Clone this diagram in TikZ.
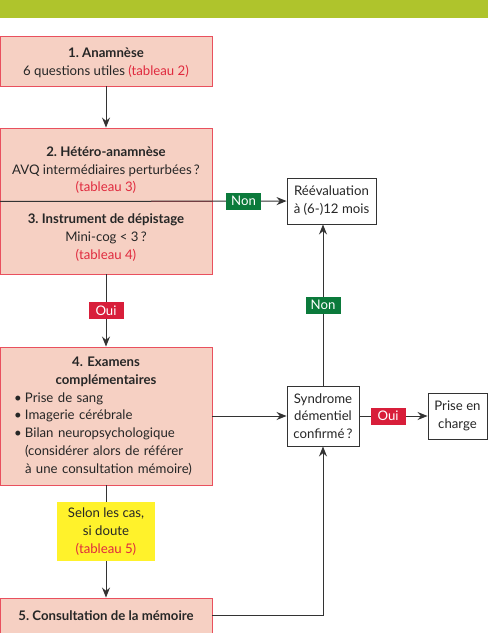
\documentclass[tikz,border=0pt]{standalone}
\usepackage{fontspec}
\setmainfont{Lato}
\usetikzlibrary{arrows.meta,positioning}
\frenchspacing

\definecolor{barvert}{HTML}{AFC42C}
\definecolor{rose}{HTML}{F6D0C3}
\definecolor{bordrose}{HTML}{E9505E}
\definecolor{rougetxt}{HTML}{E02A3E}
\definecolor{vertlbl}{HTML}{0B7A3B}
\definecolor{rougelbl}{HTML}{D81E3A}
\definecolor{jaune}{HTML}{FFF22B}
\definecolor{trait}{HTML}{333333}

\newcommand{\tabl}[1]{\textcolor{rougetxt}{(tableau #1)}}
\newcommand{\puce}[1]{\hspace*{8pt}\makebox[11pt][l]{\textbullet}#1}

\tikzset{
  etape/.style={draw=bordrose, fill=rose, line width=0.9pt, minimum width=212pt, align=center, inner sep=0pt},
  issue/.style={draw=trait, fill=white, line width=0.9pt, align=center, inner sep=0pt},
  reponse/.style={text=white, minimum width=35pt, minimum height=17pt, inner sep=0pt},
  doute/.style={fill=jaune, minimum width=98pt, minimum height=59pt, align=center, inner sep=0pt},
  fleche/.style={draw=trait, line width=1pt, -{Stealth[length=10pt,width=8pt]}},
  lien/.style={draw=trait, line width=1pt}
}

\begin{document}
\begin{tikzpicture}[x=1pt, y=-1pt, font=\fontsize{13.2}{17.8}\selectfont, text=black!85]
  \useasboundingbox (0,0) rectangle (488,633);
  % bandeau
  \fill[barvert] (0,0) rectangle (488,18);

  % etapes de gauche
  \node[etape, minimum height=50pt] (anam) at (106,61)
    {\rule{0pt}{14pt}\textbf{1. Anamnèse}\\6 questions utiles \tabl{2}};
  \node[etape, minimum height=73pt] (hetero) at (106,164.5)
    {\rule{0pt}{21pt}\textbf{2. Hétéro-anamnèse}\\AVQ intermédiaires perturbées\,?\\\tabl{3}};
  \node[etape, minimum height=73pt] (depist) at (106,237.5)
    {\textbf{3. Instrument de dépistage}\\Mini-cog < 3\,?\\\tabl{4}};
  \node[etape, minimum height=138pt, text width=200pt, align=left] (exam) at (106,416)
    {\makebox[200pt]{\textbf{4. Examens}}\\
     \makebox[200pt]{\textbf{complémentaires}}\\
     \puce{Prise de sang}\\
     \puce{Imagerie cérébrale}\\
     \puce{Bilan neuropsychologique}\\
     \hspace*{19pt}(considérer alors de référer\\
     \hspace*{19pt}à une consultation mémoire)};
  \node[etape, minimum height=35pt] (consult) at (106,615.5)
    {\textbf{5. Consultation de la mémoire}};

  % issues de droite
  \node[issue, minimum width=89pt, minimum height=46pt] (reeval) at (331.5,201)
    {Réévaluation\\à (6-)12 mois};
  \node[issue, minimum width=72pt, minimum height=60pt] (syndr) at (323,416)
    {Syndrome\\démentiel\\confirmé\,?};
  \node[issue, minimum width=59pt, minimum height=46pt] (prise) at (457.5,416)
    {Prise en\\charge};

  % liens
  \draw[fleche] (anam) -- (hetero);
  \draw[fleche] (hetero.south west) -- node[reponse, fill=vertlbl, pos=.85] {Non} (reeval);
  \draw[fleche] (depist) -- node[reponse, fill=rougelbl] {Oui} (exam);
  \draw[fleche] (syndr.north) -- node[reponse, fill=vertlbl] {Non} (syndr.north |- reeval.south);
  \draw[fleche] (exam) -- (syndr);
  \draw[fleche] (syndr) -- node[reponse, fill=rougelbl, pos=.42] {Oui} (prise);
  \draw[fleche] (exam) -- node[doute, pos=.41] {Selon les cas,\\si doute\\\tabl{5}} (consult);
  \draw[fleche] (consult) -| (syndr);
\end{tikzpicture}
\end{document}
